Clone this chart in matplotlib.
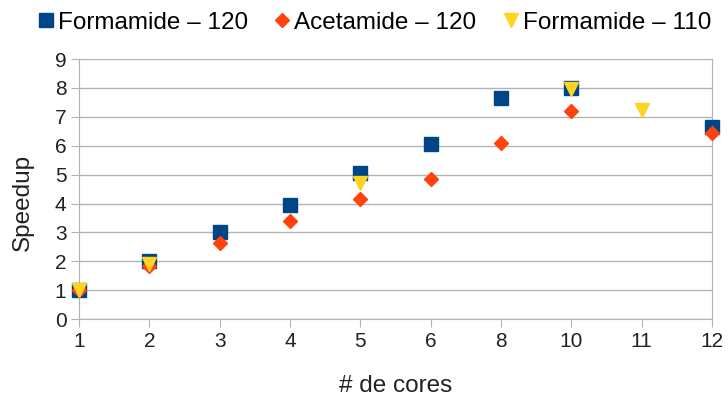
import numpy as np
import matplotlib.pyplot as plt

plt.rcParams['font.family'] = ['Liberation Sans', 'DejaVu Sans']

cores = ['1', '2', '3', '4', '5', '6', '8', '10', '11', '12']
form120 = [1.0, 2.0, 3.0, 3.95, 5.05, 6.05, 7.65, 8.0, np.nan, 6.65]
acet120 = [1.0, 1.85, 2.65, 3.4, 4.15, 4.85, 6.1, 7.2, np.nan, 6.45]
form110 = [1.0, 1.9, np.nan, np.nan, 4.7, np.nan, np.nan, 7.95, 7.25, np.nan]

grey = '#b3b3b3'
x = np.arange(len(cores))

fig = plt.figure(figsize=(7.28, 3.99), dpi=100)
ax = fig.add_axes([0.1085, 0.2, 0.8695, 0.652])

ax.plot(x, form120, 's', color='#004586', ms=9.5, label='Formamide – 120', zorder=3, clip_on=False)
ax.plot(x, acet120, 'D', color='#ff420e', ms=7.5, label='Acetamide – 120', zorder=3, clip_on=False)
ax.plot(x, form110, 'v', color='#ffd320', ms=10.5, label='Formamide – 110', zorder=3, clip_on=False)

ax.set_xlim(0, len(cores) - 1)
ax.set_ylim(0, 9)
ax.set_xticks(x, cores)
ax.set_yticks(range(10))
ax.grid(axis='y', color=grey, lw=1)
ax.set_axisbelow(True)
ax.spines['top'].set_visible(False)
for s in ['left', 'bottom', 'right']:
    ax.spines[s].set_color(grey)
ax.tick_params(axis='both', colors=grey, labelcolor='#222222', labelsize=15, length=6, pad=3)

ax.set_xlabel('# de cores', fontsize=17.5, color='#222222')
ax.set_ylabel('Speedup', fontsize=17.5, color='#222222')
ax.xaxis.set_label_coords(0.5, -0.215)
ax.yaxis.set_label_coords(-0.072, 0.45)

fig.legend(loc='upper center', bbox_to_anchor=(0.51, 1.025), ncol=3, frameon=False,
           fontsize=17.5, handletextpad=-0.1, columnspacing=0.8, handlelength=1.2)

fig.savefig('out.png', dpi=100)
